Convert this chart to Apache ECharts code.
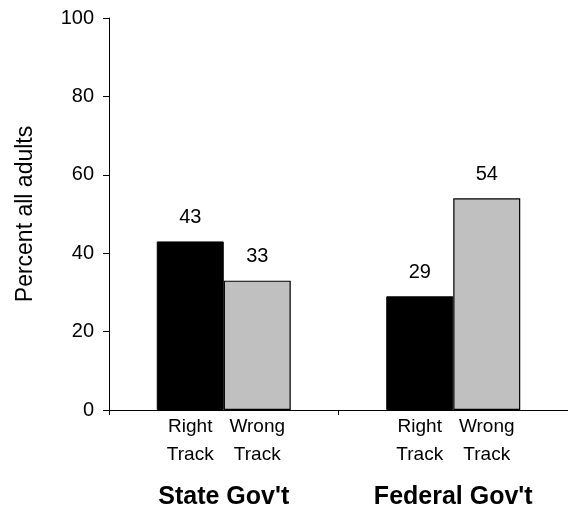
<!DOCTYPE html>
<html>
<head>
<meta charset="utf-8">
<script src="https://cdn.jsdelivr.net/npm/echarts@6/dist/echarts.min.js"></script>
<style>html,body{margin:0;padding:0;background:#fff;}#c{width:568px;height:512px;}</style>
</head>
<body>
<div id="c"></div>
<script>
var groups = ["State Gov't", "Federal Gov't"];
var rightTrack = [43, 29];
var wrongTrack = [33, 54];
var subLabels = ["Right\nTrack", "Wrong\nTrack"];
var yTicks = [0, 20, 40, 60, 80, 100];
var yTitle = "Percent all adults";

var FONT = "Liberation Sans";
var chart = echarts.init(document.getElementById('c'), null, {renderer: 'canvas'});

function labelSeries(stack, text) {
  return {
    type: 'bar', stack: stack, barWidth: 67,
    data: groups.map(function () { return 0; }),
    itemStyle: {color: 'rgba(0,0,0,0)', borderWidth: 0},
    silent: true,
    label: {
      show: true, position: 'bottom', distance: 3,
      formatter: function () { return text; },
      color: '#000', fontFamily: FONT, fontSize: 19, lineHeight: 28
    }
  };
}

chart.setOption({
  animation: false,
  backgroundColor: '#fff',
  grid: {left: 109, top: 18, width: 464, height: 392, containLabel: false},
  xAxis: {
    type: 'category', data: groups,
    axisLine: {show: true, lineStyle: {color: '#000', width: 1}},
    axisTick: {show: true, length: 5, lineStyle: {color: '#000'}},
    axisLabel: {margin: 75, color: '#000', fontFamily: FONT, fontSize: 25, fontWeight: 'bold'},
    splitLine: {show: false}
  },
  yAxis: {
    type: 'value', min: yTicks[0], max: yTicks[yTicks.length - 1], interval: yTicks[1] - yTicks[0],
    name: yTitle, nameLocation: 'middle', nameGap: 72, nameRotate: 90,
    nameTextStyle: {color: '#000', fontFamily: FONT, fontSize: 23},
    axisLine: {show: true, lineStyle: {color: '#000', width: 1}},
    axisTick: {show: true, length: 6, lineStyle: {color: '#000'}},
    axisLabel: {margin: 15, color: '#000', fontFamily: FONT, fontSize: 20},
    splitLine: {show: false}
  },
  series: [
    labelSeries('r', subLabels[0]),
    {
      type: 'bar', stack: 'r', name: 'Right Track', barWidth: 67, barGap: '0%',
      data: rightTrack,
      itemStyle: {color: '#000000', borderColor: '#000', borderWidth: 1},
      label: {show: true, position: 'top', distance: 14, color: '#000', fontFamily: FONT, fontSize: 20}
    },
    labelSeries('w', subLabels[1]),
    {
      type: 'bar', stack: 'w', name: 'Wrong Track', barWidth: 67, barGap: '0%',
      data: wrongTrack,
      itemStyle: {color: '#C0C0C0', borderColor: '#000', borderWidth: 1.2},
      label: {show: true, position: 'top', distance: 14, color: '#000', fontFamily: FONT, fontSize: 20}
    }
  ]
});
</script>
</body>
</html>
